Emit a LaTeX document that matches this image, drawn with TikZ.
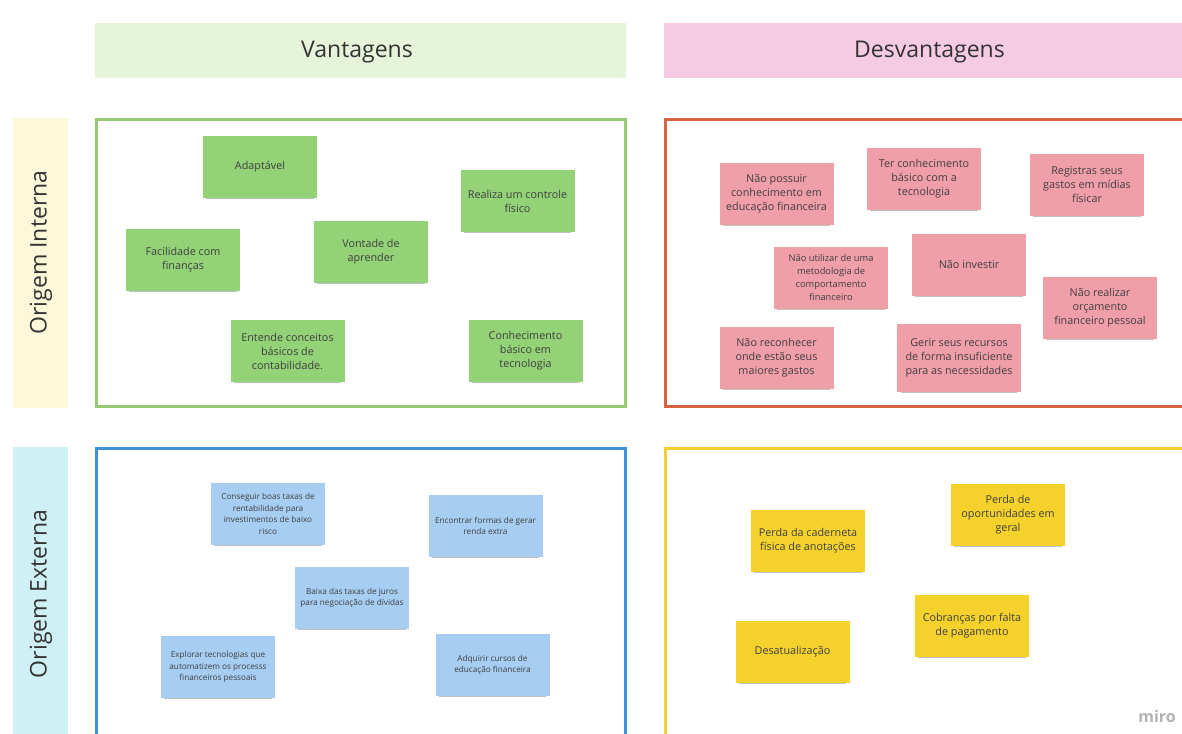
\documentclass[tikz,border=0pt]{standalone}
\usepackage{fontspec}
\setmainfont{Open Sans}
\usetikzlibrary{shadows}
\definecolor{stgreen}{HTML}{93D276}
\definecolor{stpink}{HTML}{F09EA8}
\definecolor{stblue}{HTML}{A7CDF3}
\definecolor{styellow}{HTML}{F5D12C}
\definecolor{hdrgreen}{HTML}{E6F4DA}
\definecolor{hdrpink}{HTML}{F5CBE1}
\definecolor{sideyellow}{HTML}{FEF8DA}
\definecolor{sidecyan}{HTML}{CFF0F4}
\definecolor{frgreen}{HTML}{97C974}
\definecolor{frred}{HTML}{DA6343}
\definecolor{frblue}{HTML}{3C95DA}
\definecolor{fryellow}{HTML}{F1D030}
\definecolor{notetext}{HTML}{3F3F3F}
\definecolor{hdrtext}{HTML}{333333}
\begin{document}
\begin{tikzpicture}[x=1pt,y=-1pt,
  note/.style={minimum width=114pt,minimum height=62pt,inner sep=2pt,align=center,
    font=\fontsize{10.8}{14}\selectfont,text=notetext,
    drop shadow={shadow xshift=0pt,shadow yshift=-3.5pt,shadow scale=0.94,opacity=0.35,fill=black!70}},
  gnote/.style={note,fill=stgreen},
  pnote/.style={note,fill=stpink},
  bnote/.style={note,fill=stblue,font=\fontsize{8.2}{11.5}\selectfont},
  ynote/.style={note,fill=styellow},
  hdrbox/.style={minimum height=55pt,minimum width=531pt,inner sep=0pt},
  hdrtxt/.style={inner sep=0pt,font=\fontsize{23}{27}\selectfont,text=hdrtext},
  sidebox/.style={minimum width=55pt,inner sep=0pt},
  sidetext/.style={rotate=90,inner sep=0pt,font=\fontsize{23}{27}\selectfont,text=hdrtext},
  frame/.style={line width=3pt}
]
\useasboundingbox[fill=white] (0,0) rectangle (1182,733);

% headers
\node[hdrbox,fill=hdrgreen] (vantbox) at (360.5,50.5) {};
\node[hdrtxt] (vant) at (357,52) {Vantagens};
\node[hdrbox,fill=hdrpink] (desvbox) at (929.5,50.5) {};
\node[hdrtxt] (desv) at (929.5,52) {Desvantagens};
\node[sidebox,fill=sideyellow,minimum height=290pt] (ointbox) at (40.5,263) {};
\node[sidetext] (oint) at (41,252.5) {Origem Interna};
\node[sidebox,fill=sidecyan,minimum height=296pt] (oextbox) at (40.5,595) {};
\node[sidetext] (oext) at (41,594) {Origem Externa};

% frames
\draw[frame,draw=frgreen] (96.5,119.5) rectangle (625,406.5);
\draw[frame,draw=frred] (665.5,119.5) rectangle (1190,406.5);
\draw[frame,draw=frblue] (96.5,448.5) rectangle (625,740);
\draw[frame,draw=fryellow] (665.5,448.5) rectangle (1190,740);

% green notes
\node[gnote] (adapt) at (260,167) {Adaptável};
\node[gnote] (realiza) at (517.5,201) {Realiza um controle\\físico};
\node[gnote] (facil) at (183,260) {Facilidade com\\finanças};
\node[gnote] (vontade) at (371,252) {Vontade de\\aprender};
\node[gnote] (entende) at (287.5,351) {Entende conceitos\\básicos de\\contabilidade.};
\node[gnote] (conhec) at (525.5,351) {Conhecimento\\básico em\\tecnologia};

% pink notes
\node[pnote] (naoposs) at (776.5,193.5) {Não possuir\\conhecimento em\\educação financeira};
\node[pnote] (terconh) at (924,179) {Ter conhecimento\\básico com a\\tecnologia};
\node[pnote] (registra) at (1087,185) {Registras seus\\gastos em mídias\\físicar};
\node[pnote,font=\fontsize{9.3}{13}\selectfont] (naoutil) at (831,278) {Não utilizar de uma\\metodologia de\\comportamento\\financeiro};
\node[pnote] (naoinv) at (969,265) {Não investir};
\node[pnote] (naoreal) at (1100,308) {Não realizar\\orçamento\\financeiro pessoal};
\node[pnote] (naorec) at (776.5,358) {Não reconhecer\\onde estão seus\\maiores gastos};
\node[pnote,minimum width=124pt,minimum height=68pt] (gerir) at (959,358) {Gerir seus recursos\\de forma insuficiente\\para as necessidades};

% blue notes
\node[bnote] (conseg) at (268,514) {Conseguir boas taxas de\\rentabilidade para\\investimentos de baixo\\risco};
\node[bnote] (encont) at (485.5,526) {Encontrar formas de gerar\\renda extra};
\node[bnote] (baixa) at (352,598) {Baixa das taxas de juros\\para negociação de dívidas};
\node[bnote] (explor) at (218,667) {Explorar tecnologias que\\automatizem os processs\\financeiros pessoais};
\node[bnote] (adquir) at (492.5,665) {Adquirir cursos de\\educação financeira};

% yellow notes
\node[ynote] (perdacad) at (808,541) {Perda da caderneta\\física de anotações};
\node[ynote] (perdaop) at (1008,515) {Perda de\\oportunidades em\\geral};
\node[ynote] (desat) at (792.5,652) {Desatualização};
\node[ynote] (cobr) at (972,626) {Cobranças por falta\\de pagamento};

\node[text=black!30,font=\fontsize{16}{18}\selectfont\bfseries] (miro) at (1157,716) {miro};
\end{tikzpicture}
\end{document}
